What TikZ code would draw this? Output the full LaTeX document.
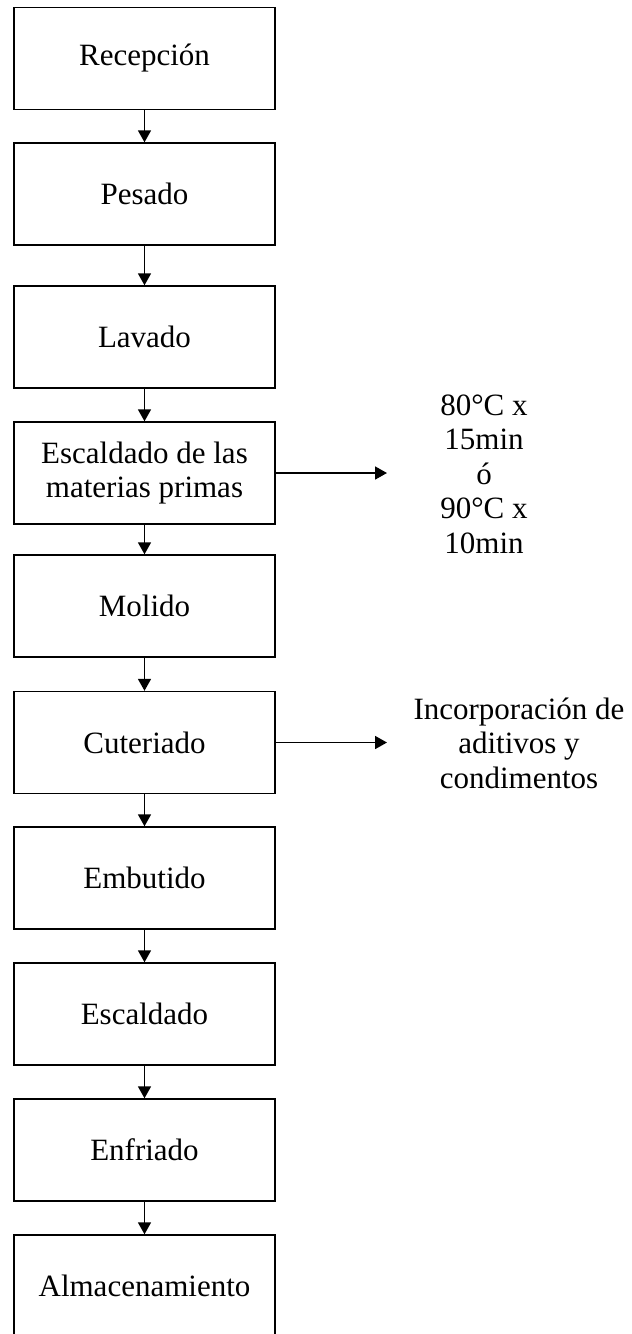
\documentclass[tikz,border=0pt]{standalone}
\usepackage{fontspec}
\setmainfont{Liberation Serif}
\usepackage{tikz}
\usetikzlibrary{positioning, arrows.meta}

\begin{document}
\begin{tikzpicture}[
    x=1pt, y=-1pt,
    stage/.style={rectangle, draw=black, line width=1.4pt,
                  minimum width=261pt, minimum height=102pt, inner sep=0pt,
                  font=\fontsize{31}{34.5}\selectfont, align=center},
    note/.style={inner sep=0pt, font=\fontsize{31}{34.5}\selectfont, align=center},
    arrow/.style={-{Triangle[length=12pt, width=13pt]}, line width=1.7pt}
]
    \useasboundingbox (0,0) rectangle (632,1334);

    % Process steps
    \node[stage] (recepcion) at (144.5, 58.5) {Recepción};
    \node[stage] (pesado) at (144.5, 194) {Pesado};
    \node[stage] (lavado) at (144.5, 337) {Lavado};
    \node[stage] (escmp) at (144.5, 473) {Escaldado de las\\materias primas};
    \node[stage] (molido) at (144.5, 606) {Molido};
    \node[stage] (cuteriado) at (144.5, 742.5) {Cuteriado};
    \node[stage] (embutido) at (144.5, 878) {Embutido};
    \node[stage] (escaldado) at (144.5, 1014) {Escaldado};
    \node[stage] (enfriado) at (144.5, 1150) {Enfriado};
    \node[stage] (almacen) at (144.5, 1286) {Almacenamiento};

    % Side notes
    \node[note] (tiempos) at (484, 474) {80°C x\\15min\\ó\\90°C x\\10min};
    \node[note] (aditivos) at (519, 743) {Incorporación de\\aditivos y\\condimentos};
    \coordinate (tipesc) at (387, 473);
    \coordinate (tipcut) at (387, 742.5);

    % Arrows
    \draw[arrow] (recepcion) -- (pesado);
    \draw[arrow] (pesado) -- (lavado);
    \draw[arrow] (lavado) -- (escmp);
    \draw[arrow] (escmp) -- (molido);
    \draw[arrow] (molido) -- (cuteriado);
    \draw[arrow] (cuteriado) -- (embutido);
    \draw[arrow] (embutido) -- (escaldado);
    \draw[arrow] (escaldado) -- (enfriado);
    \draw[arrow] (enfriado) -- (almacen);
    \draw[arrow] (escmp.east) -- (tipesc);
    \draw[arrow] (cuteriado.east) -- (tipcut);

\end{tikzpicture}
\end{document}
